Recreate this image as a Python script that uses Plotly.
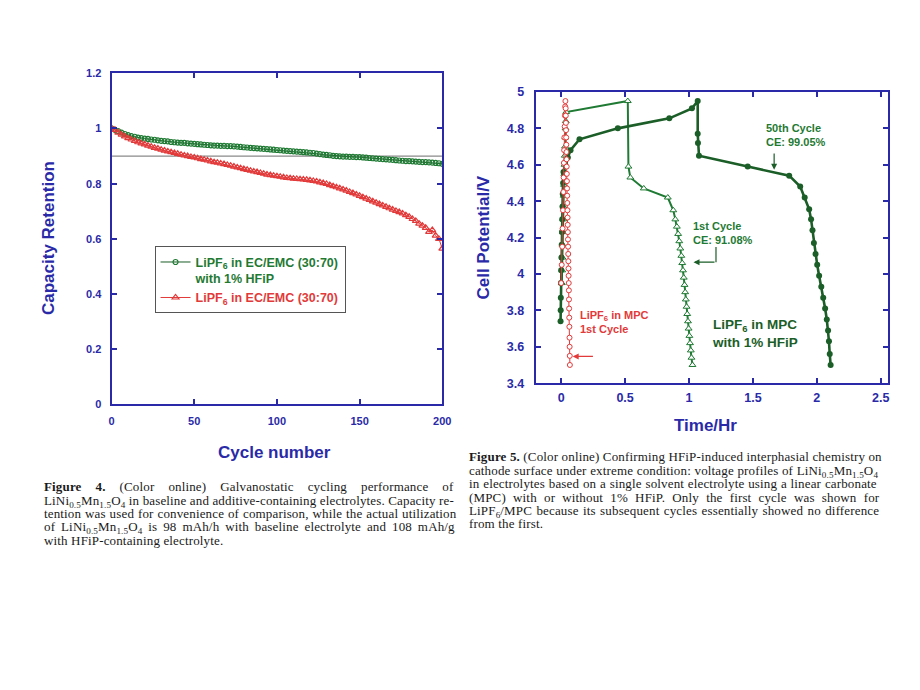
import plotly.graph_objects as go

# ---------------- Data: Figure 4 (capacity retention) ----------------
cycles = list(range(0, 201, 2))
hfip_retention = [1.000, 0.995, 0.990, 0.985, 0.980, 0.976, 0.972, 0.970, 0.967, 0.965,
                  0.963, 0.962, 0.960, 0.959, 0.957, 0.955, 0.954, 0.953, 0.951, 0.950,
                  0.949, 0.948, 0.948, 0.946, 0.945, 0.944, 0.943, 0.942, 0.941, 0.940,
                  0.939, 0.938, 0.938, 0.937, 0.937, 0.936, 0.936, 0.935, 0.934, 0.933,
                  0.932, 0.931, 0.930, 0.929, 0.928, 0.927, 0.926, 0.925, 0.924, 0.923,
                  0.922, 0.921, 0.920, 0.919, 0.918, 0.917, 0.916, 0.915, 0.914, 0.913,
                  0.912, 0.911, 0.909, 0.907, 0.905, 0.904, 0.903, 0.901, 0.900, 0.899,
                  0.898, 0.898, 0.897, 0.897, 0.896, 0.896, 0.895, 0.894, 0.893, 0.892,
                  0.891, 0.890, 0.889, 0.888, 0.887, 0.886, 0.885, 0.884, 0.883, 0.882,
                  0.882, 0.881, 0.880, 0.879, 0.878, 0.878, 0.877, 0.876, 0.875, 0.874,
                  0.872]
base_retention = [1.000, 0.995, 0.985, 0.978, 0.971, 0.965, 0.960, 0.955, 0.950, 0.946,
                  0.942, 0.938, 0.934, 0.930, 0.927, 0.923, 0.920, 0.917, 0.914, 0.911,
                  0.908, 0.905, 0.902, 0.900, 0.897, 0.895, 0.892, 0.889, 0.887, 0.884,
                  0.881, 0.878, 0.876, 0.873, 0.871, 0.868, 0.865, 0.862, 0.859, 0.856,
                  0.853, 0.850, 0.847, 0.844, 0.842, 0.839, 0.836, 0.833, 0.831, 0.829,
                  0.827, 0.825, 0.823, 0.821, 0.820, 0.818, 0.817, 0.816, 0.815, 0.814,
                  0.812, 0.810, 0.808, 0.805, 0.802, 0.799, 0.795, 0.791, 0.787, 0.783,
                  0.779, 0.775, 0.770, 0.766, 0.761, 0.756, 0.751, 0.746, 0.741, 0.736,
                  0.731, 0.726, 0.721, 0.716, 0.711, 0.706, 0.701, 0.697, 0.692, 0.686,
                  0.680, 0.672, 0.665, 0.655, 0.648, 0.640, 0.625, 0.632, 0.612, 0.600,
                  0.565]
ref_cycles = [0, 200]
ref_level = [0.9, 0.9]

# ---------------- Data: Figure 5 (voltage profiles) ----------------
mpc_t = [0.000, 0.004, 0.008, 0.011, 0.014, 0.017, 0.019, 0.021, 0.023, 0.025,
         0.027, 0.029, 0.031, 0.033,
         0.035, 0.036, 0.037, 0.038, 0.039, 0.040, 0.041, 0.042, 0.043, 0.044,
         0.045, 0.046, 0.047, 0.048, 0.049, 0.050, 0.051, 0.052, 0.053, 0.054,
         0.055, 0.056, 0.057, 0.058, 0.059, 0.060, 0.061, 0.062, 0.063, 0.064,
         0.065, 0.066, 0.067, 0.068]
mpc_v = [3.95, 4.05, 4.15, 4.25, 4.35, 4.45, 4.53, 4.61, 4.68, 4.75,
         4.81, 4.87, 4.92, 4.95,
         4.91, 4.87, 4.83, 4.79, 4.75, 4.71, 4.67, 4.63, 4.59, 4.55,
         4.51, 4.47, 4.43, 4.39, 4.35, 4.31, 4.27, 4.23, 4.19, 4.15,
         4.11, 4.07, 4.03, 3.99, 3.95, 3.91, 3.86, 3.81, 3.76, 3.71,
         3.65, 3.60, 3.55, 3.50]

hfip1_t = [0.005, 0.008, 0.010, 0.012, 0.014, 0.016, 0.018, 0.020, 0.022, 0.024,
           0.026, 0.028, 0.030, 0.032, 0.034, 0.036, 0.039,
           0.521, 0.526, 0.541, 0.646, 0.834, 0.877, 0.893, 0.905, 0.915,
           0.924, 0.932, 0.940, 0.947, 0.953, 0.959, 0.965, 0.970, 0.975,
           0.981, 0.986, 0.992, 0.997, 1.003, 1.008, 1.014, 1.019, 1.027]
hfip1_v = [3.95, 4.02, 4.09, 4.16, 4.23, 4.30, 4.37, 4.43, 4.49, 4.55,
           4.60, 4.65, 4.70, 4.75, 4.80, 4.84, 4.89,
           4.95, 4.59, 4.53, 4.47, 4.42, 4.35, 4.30, 4.26, 4.22,
           4.18, 4.14, 4.10, 4.06, 4.02, 3.98, 3.94, 3.90, 3.86,
           3.82, 3.78, 3.74, 3.70, 3.66, 3.62, 3.58, 3.54, 3.50]

hfip50_t = [-0.005, -0.004, -0.003, -0.002, 0.000, 0.002, 0.004, 0.006, 0.008, 0.010,
            0.012, 0.015, 0.018, 0.030, 0.052, 0.073, 0.143, 0.443, 0.846, 1.023,
            1.068, 1.068, 1.070, 1.078, 1.459, 1.784, 1.870, 1.905, 1.940, 1.955,
            1.966, 1.977, 1.990, 2.003, 2.018, 2.035, 2.050, 2.065, 2.078, 2.088,
            2.095, 2.101, 2.108]
hfip50_v = [3.74, 3.80, 3.87, 3.95, 4.02, 4.09, 4.16, 4.23, 4.30, 4.37,
            4.44, 4.50, 4.56, 4.61, 4.64, 4.68, 4.74, 4.80, 4.855, 4.91,
            4.95, 4.77, 4.72, 4.65, 4.59, 4.54, 4.48, 4.42, 4.355, 4.30,
            4.24, 4.17, 4.11, 4.05, 3.99, 3.93, 3.87, 3.81, 3.75, 3.69,
            3.63, 3.56, 3.50]

# ---------------- Styles ----------------
W, H = 920, 690
BLUE = "#2a2aa8"
GREEN = "#1f7a33"
DKGREEN = "#1b5e27"
RED = "#e23a3a"
SANS = "Liberation Sans, Arial, sans-serif"
SERIF = "Liberation Serif, Times New Roman, serif"

# small correction measured from the rendered page (screen px -> figure px)
SX, OX = 0.988, 1.3
SY, OY = 0.979, 6.8


def px_x(p):
    return ((p - OX) / SX) / W


def px_y(p):
    return 1 - ((p - OY) / SY) / H


fig = go.Figure()

# Left panel
fig.add_trace(go.Scatter(x=ref_cycles, y=ref_level, mode="lines",
                         line=dict(color="#8a8a8a", width=1.3),
                         showlegend=False, xaxis="x", yaxis="y"))
fig.add_trace(go.Scatter(
    x=cycles, y=hfip_retention, mode="lines+markers",
    line=dict(color=DKGREEN, width=1),
    marker=dict(symbol="circle-open", size=5, color=GREEN, line=dict(width=1.2)),
    name=f"<span style='color:{GREEN}'><b>LiPF<sub>6</sub> in EC/EMC (30:70)<br>with 1% HFiP</b></span>",
    xaxis="x", yaxis="y"))
fig.add_trace(go.Scatter(
    x=cycles, y=base_retention, mode="lines+markers",
    line=dict(color=RED, width=1),
    marker=dict(symbol="triangle-up-open", size=6, color=RED, line=dict(width=1.2)),
    name=f"<span style='color:{RED}'><b>LiPF<sub>6</sub> in EC/EMC (30:70)</b></span>",
    xaxis="x", yaxis="y"))

# Right panel
fig.add_trace(go.Scatter(
    x=hfip1_t, y=hfip1_v, mode="lines+markers",
    line=dict(color=GREEN, width=2),
    marker=dict(symbol="triangle-up", size=6, color="white",
                line=dict(color=GREEN, width=1)),
    showlegend=False, xaxis="x2", yaxis="y2"))
fig.add_trace(go.Scatter(
    x=hfip50_t, y=hfip50_v, mode="lines+markers",
    line=dict(color=DKGREEN, width=2.6),
    marker=dict(symbol="circle", size=6, color=DKGREEN),
    showlegend=False, xaxis="x2", yaxis="y2"))
fig.add_trace(go.Scatter(
    x=mpc_t, y=mpc_v, mode="lines+markers",
    line=dict(color=RED, width=1),
    marker=dict(symbol="circle", size=5, color="white",
                line=dict(color=RED, width=1)),
    showlegend=False, xaxis="x2", yaxis="y2"))


def axis_style(size):
    return dict(
        showline=True, linecolor=BLUE, linewidth=2, mirror="allticks",
        ticks="inside", ticklen=5, tickwidth=2, tickcolor=BLUE,
        showgrid=False, zeroline=False,
        tickfont=dict(family=SANS, size=size, color=BLUE, weight="bold"),
    )


fig.update_layout(
    width=W, height=H,
    margin=dict(l=0, r=0, t=0, b=0),
    paper_bgcolor="white", plot_bgcolor="white",
    xaxis=dict(domain=[px_x(110), px_x(441)], range=[0, 200],
               tickvals=[0, 50, 100, 150, 200], anchor="y",
               ticklabelstandoff=5, **axis_style(11)),
    yaxis=dict(domain=[px_y(404), px_y(73)], range=[0, 1.2],
               tickvals=[0, 0.2, 0.4, 0.6, 0.8, 1, 1.2], anchor="x",
               ticklabelstandoff=6, **axis_style(11)),
    xaxis2=dict(domain=[px_x(534.5), px_x(887)], range=[-0.2, 2.555],
                tickvals=[0, 0.5, 1, 1.5, 2, 2.5], anchor="y2",
                ticklabelstandoff=2, **axis_style(12.5)),
    yaxis2=dict(domain=[px_y(382.7), px_y(91.7)], range=[3.4, 5.0],
                tickvals=[3.4, 3.6, 3.8, 4, 4.2, 4.4, 4.6, 4.8, 5],
                ticktext=["3.4", "3.6", "3.8", "4", "4.2", "4.4", "4.6", "4.8", "5"],
                anchor="x2", ticklabelstandoff=7, **axis_style(12.5)),
    legend=dict(x=px_x(153), y=px_y(246), xanchor="left", yanchor="top",
                bgcolor="white", bordercolor="#555555", borderwidth=1,
                font=dict(family=SANS, size=12.5), valign="top",
                itemwidth=30, tracegroupgap=0),
)

ann = []


def title(text, x, y, angle=0, size=17):
    ann.append(dict(text=f"<b>{text}</b>", x=px_x(x), y=px_y(y),
                    xref="paper", yref="paper", showarrow=False,
                    xanchor="center", yanchor="middle", textangle=angle,
                    font=dict(family=SANS, size=size, color=BLUE)))


title("Cycle number", 273, 452)
title("Capacity Retention", 47, 238, -90)
title("Cell Potential/V", 482, 237, -90)
title("Time/Hr", 705, 425)

# Right panel labels
ann.append(dict(text="<b>50th Cycle<br>CE: 99.05%</b>", x=1.585, y=4.765,
                xref="x2", yref="y2", showarrow=False, align="left",
                xanchor="left", yanchor="middle",
                font=dict(family=SANS, size=11, color=GREEN)))
ann.append(dict(text="", x=1.666, y=4.573, ax=1.666, ay=4.67,
                xref="x2", yref="y2", axref="x2", ayref="y2",
                showarrow=True, arrowhead=2, arrowsize=1, arrowwidth=1.2,
                arrowcolor=DKGREEN))
ann.append(dict(text="<b>1st Cycle<br>CE: 91.08%</b>", x=1.016, y=4.225,
                xref="x2", yref="y2", showarrow=False, align="left",
                xanchor="left", yanchor="middle",
                font=dict(family=SANS, size=11, color=GREEN)))
ann.append(dict(text="", x=1.035, y=4.065, ax=1.211, ay=4.065,
                xref="x2", yref="y2", axref="x2", ayref="y2",
                showarrow=True, arrowhead=2, arrowsize=1, arrowwidth=1.2,
                arrowcolor=DKGREEN))
ann.append(dict(text="<b>LiPF<sub>6</sub> in MPC<br>1st Cycle</b>", x=0.13, y=3.735,
                xref="x2", yref="y2", showarrow=False, align="left",
                xanchor="left", yanchor="middle",
                font=dict(family=SANS, size=11, color=RED)))
ann.append(dict(text="", x=0.09, y=3.547, ax=0.26, ay=3.547,
                xref="x2", yref="y2", axref="x2", ayref="y2",
                showarrow=True, arrowhead=2, arrowsize=1, arrowwidth=1.2,
                arrowcolor=RED))
ann.append(dict(text="<b>LiPF<sub>6</sub> in MPC<br>with 1% HFiP</b>", x=1.166, y=3.675,
                xref="x2", yref="y2", showarrow=False, align="left",
                xanchor="left", yanchor="middle",
                font=dict(family=SANS, size=13.5, color=DKGREEN)))

# Captions (approximately justified with word spacing); anchored at top so that
# subscripts do not shift the baseline
cap_font = dict(family=SERIF, size=13, color="#1a1a1a")
NI = "LiNi<sub>0.5</sub>Mn<sub>1.5</sub>O<sub>4</sub>"
left_lines = [
    ("<b>Figure 4.</b> (Color online) Galvanostatic cycling performance of", 10.6),
    (f"{NI} in baseline and additive-containing electrolytes. Capacity re-", 0.0),
    ("tention was used for convenience of comparison, while the actual utilization", 0.5),
    (f"of {NI} is 98 mAh/h with baseline electrolyte and 108 mAh/g", 2.5),
    ("with HFiP-containing electrolyte.", 0.0),
]
left_ys = [486.7, 500.5, 514, 527.3, 540.7]
for (t, ws), yy in zip(left_lines, left_ys):
    ann.append(dict(text=f"<span style='letter-spacing:0.15px;word-spacing:{ws}px'>{t}</span>",
                    x=px_x(40), y=px_y(yy - 10.5), xref="paper", yref="paper",
                    xanchor="left", yanchor="top", showarrow=False, font=cap_font))

right_lines = [
    ("<b>Figure 5.</b> (Color online) Confirming HFiP-induced interphasial chemistry on", 0.0),
    (f"cathode surface under extreme condition: voltage profiles of {NI}", 0.2),
    ("in electrolytes based on a single solvent electrolyte using a linear carbonate", 0.4),
    ("(MPC) with or without 1% HFiP. Only the first cycle was shown for", 3.8),
    ("LiPF<sub>6</sub>/MPC because its subsequent cycles essentially showed no difference", 1.0),
    ("from the first.", 0.0),
]
right_ys = [457.3, 471, 484.3, 498.3, 511, 524.3]
for (t, ws), yy in zip(right_lines, right_ys):
    ann.append(dict(text=f"<span style='letter-spacing:0.15px;word-spacing:{ws}px'>{t}</span>",
                    x=px_x(466), y=px_y(yy - 10.5), xref="paper", yref="paper",
                    xanchor="left", yanchor="top", showarrow=False, font=cap_font))

fig.update_layout(annotations=ann)

# bent arrow vertical segment (1st cycle)
fig.add_shape(type="line", x0=1.211, x1=1.211, y0=4.148, y1=4.065,
              xref="x2", yref="y2", line=dict(color=DKGREEN, width=1.2))

fig.write_html("out.html", config={"displayModeBar": False},
               post_script="document.body.style.margin='0';document.body.style.overflow='hidden';")
